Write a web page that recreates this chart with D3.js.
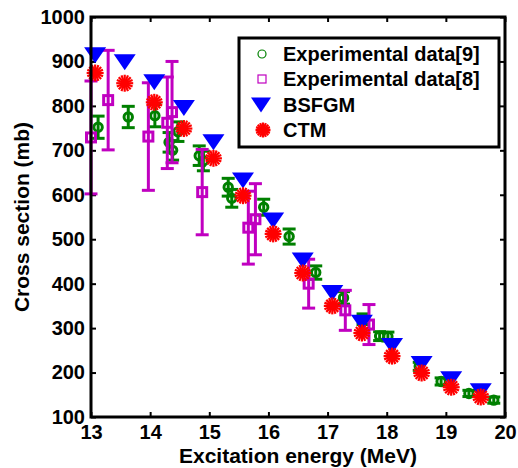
<!DOCTYPE html>
<html><head><meta charset="utf-8">
<script src="https://cdn.jsdelivr.net/npm/d3@7"></script>
<style>body{margin:0;background:#fff}svg{display:block}text{font-family:"Liberation Sans",Arial,sans-serif;font-weight:bold}</style>
</head><body><svg id="c" width="518" height="468"></svg>
<script>
// Experimental data [9]
const exp9E   = [13.12,13.63,14.08,14.32,14.38,14.47,14.83,14.90,15.32,15.38,15.92,16.35,16.80,17.27,17.60,17.88,18.02,18.55,18.92,19.39,19.81];
const exp9V   = [752,775,778,718,700,742,688,676,617,592,572,506,425,368,320,282,281,214,180,153,138];
const exp9Err = [25,24,25,22,22,22,22,22,20,20,18,17,15,14,12,10,10,9,8,7,7];
// Experimental data [8]
const exp8E   = [13.00,13.29,13.97,14.29,14.37,14.88,15.66,15.78,16.68,17.30,17.70];
const exp8V   = [729,813,731,762,786,606,526,545,400,340,308];
const exp8Err = [127,112,121,103,114,96,82,80,55,45,45];
// Models
const modelE  = [13.07,13.57,14.07,14.57,15.07,15.57,16.08,16.58,17.08,17.58,18.09,18.59,19.09,19.59];
const bsfgmV  = [914,898,853,795,718,632,542,452,379,312,260,219,185,158];
const ctmV    = [874,851,808,749,682,598,512,424,350,289,237,199,167,145];
const xTicks  = [13,14,15,16,17,18,19,20];
const yTicks  = [100,200,300,400,500,600,700,800,900,1000];
const legendLabels = ["Experimental data[9]","Experimental data[8]","BSFGM","CTM"];

const svg = d3.select("#c");
const L=91,R=505,T=17,B=417;
const x = d3.scaleLinear().domain([13,20]).range([L,R]);
const y = d3.scaleLinear().domain([100,1000]).range([B,T]);
const green="#008000", mag="#c000c0", blue="#0000ff", red="#ff0000";

// axes ticks (inward) and labels
const ax = svg.append("g");
ax.append("g").attr("transform",`translate(0,${B})`)
  .call(d3.axisBottom(x).tickValues(xTicks).tickSizeInner(-5).tickSizeOuter(0).tickPadding(8).tickFormat(d3.format("d")));
ax.append("g").attr("transform",`translate(0,${T})`)
  .call(d3.axisTop(x).tickValues(xTicks).tickSizeInner(-5).tickSizeOuter(0).tickFormat(""));
ax.append("g").attr("transform",`translate(${L},0)`)
  .call(d3.axisLeft(y).tickValues(yTicks).tickSizeInner(-5).tickSizeOuter(0).tickPadding(6).tickFormat(d3.format("d")));
ax.append("g").attr("transform",`translate(${R},0)`)
  .call(d3.axisRight(y).tickValues(yTicks).tickSizeInner(-5).tickSizeOuter(0).tickFormat(""));
ax.selectAll(".domain").remove();
ax.selectAll(".tick line").attr("stroke","#000").attr("stroke-width",2);
ax.selectAll(".tick text").attr("font-size",20).attr("fill","#000")
  .style("font-family",'"Liberation Sans",Arial,sans-serif').style("font-weight","bold");

const plot = svg.append("g");
function errbars(E,V,Er,color,lw,cap){
  const g = plot.append("g").attr("stroke",color).attr("stroke-width",lw).attr("fill","none");
  E.forEach((e,i)=>{
    const cx=x(e), y0=y(V[i]-Er[i]), y1=y(V[i]+Er[i]);
    g.append("line").attr("x1",cx).attr("x2",cx).attr("y1",y0).attr("y2",y1);
    g.append("line").attr("x1",cx-cap).attr("x2",cx+cap).attr("y1",y0).attr("y2",y0);
    g.append("line").attr("x1",cx-cap).attr("x2",cx+cap).attr("y1",y1).attr("y2",y1);
  });
  return g;
}
const g9 = errbars(exp9E,exp9V,exp9Err,green,3,6.5);
exp9E.forEach((e,i)=>g9.append("circle").attr("cx",x(e)).attr("cy",y(exp9V[i])).attr("r",4.2));
const g8 = errbars(exp8E,exp8V,exp8Err,mag,3,6.5);
exp8E.forEach((e,i)=>g8.append("rect").attr("x",x(e)-4.5).attr("y",y(exp8V[i])-4.5).attr("width",9).attr("height",9));

function tri(cx,cy,w,h){return `M${cx-w/2},${cy-h/2}L${cx+w/2},${cy-h/2}L${cx},${cy+h/2}Z`;}
function star(g,cx,cy,r,lw){
  const s=g.append("g").attr("stroke",red).attr("stroke-width",lw).attr("stroke-linecap","butt");
  for(let k=0;k<8;k++){const a=k*Math.PI/8;
    s.append("line").attr("x1",cx-r*Math.cos(a)).attr("y1",cy-r*Math.sin(a)).attr("x2",cx+r*Math.cos(a)).attr("y2",cy+r*Math.sin(a));}
  s.append("circle").attr("cx",cx).attr("cy",cy).attr("r",r*0.45).attr("fill",red).attr("stroke","none");
}
const gb = plot.append("g");
modelE.forEach((e,i)=>gb.append("path").attr("d",tri(x(e),y(bsfgmV[i]),22,16)).attr("fill",blue));
const gr = plot.append("g");
modelE.forEach((e,i)=>star(gr,x(e),y(ctmV[i]),8.5,2.2));

// frame
svg.append("rect").attr("x",L).attr("y",T).attr("width",R-L).attr("height",B-T)
  .attr("fill","none").attr("stroke","#000").attr("stroke-width",3);

// axis titles
svg.append("text").attr("x",(L+R)/2).attr("y",463).attr("text-anchor","middle").attr("font-size",21).text("Excitation energy (MeV)");
svg.append("text").attr("transform",`translate(29,${(T+B)/2}) rotate(-90)`).attr("text-anchor","middle").attr("font-size",21).text("Cross section (mb)");

// legend
const lg = svg.append("g");
lg.append("rect").attr("x",239).attr("y",38).attr("width",260).attr("height",109).attr("fill","#fff").attr("stroke","#000").attr("stroke-width",3);
const ly=[54,79,105,130];
lg.append("circle").attr("cx",262).attr("cy",ly[0]).attr("r",4).attr("fill","none").attr("stroke",green).attr("stroke-width",1.2);
lg.append("rect").attr("x",258).attr("y",ly[1]-4).attr("width",8).attr("height",8).attr("fill","none").attr("stroke",mag).attr("stroke-width",1.2);
lg.append("path").attr("d",tri(261,ly[2],20,15)).attr("fill",blue);
star(lg,263,ly[3],7.5,2.2);
legendLabels.forEach((t,i)=>lg.append("text").attr("x",283).attr("y",ly[i]).attr("dy","0.36em").attr("font-size",20).text(t));
</script></body></html>
